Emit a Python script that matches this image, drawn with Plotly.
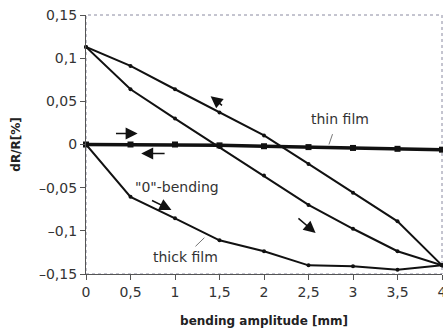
import plotly.graph_objects as go

x_vals = [0, 0.5, 1, 1.5, 2, 2.5, 3, 3.5, 4]
thin_film = [0, 0, 0, -0.001, -0.002, -0.003, -0.004, -0.005, -0.006]
thick_zero_bending = [0, -0.0606, -0.0855, -0.111, -0.1236, -0.140, -0.141, -0.145, -0.140]
thick_down = [0.113, 0.064, 0.030, -0.003, -0.036, -0.070, -0.0976, -0.1236, -0.140]
thick_return = [0.113, 0.091, 0.064, 0.037, 0.0105, -0.0225, -0.056, -0.089, -0.140]

y_tickvals = [0.15, 0.1, 0.05, 0, -0.05, -0.1, -0.15]
y_ticktext = ["0,15", "0,1", "0,05", "0", "–0,05", "–0,1", "–0,15"]
x_tickvals = [0, 0.5, 1, 1.5, 2, 2.5, 3, 3.5, 4]
x_ticktext = ["0", "0,5", "1", "1,5", "2", "2,5", "3", "3,5", "4"]

FONT = "DejaVu Sans, Verdana, sans-serif"

fig = go.Figure()
line_style = dict(color="#111111", width=2)
marker_style = dict(color="#111111", size=4, symbol="circle")
for ys in [thick_zero_bending, thick_down, thick_return]:
    fig.add_trace(go.Scatter(x=x_vals, y=ys, mode="lines+markers",
                             line=line_style, marker=marker_style, showlegend=False,
                             cliponaxis=False))
fig.add_trace(go.Scatter(x=x_vals, y=thin_film, mode="lines+markers",
                         line=dict(color="#111111", width=3.5),
                         marker=dict(color="#111111", size=6, symbol="square"),
                         showlegend=False, cliponaxis=False))

# arrows (head, tail) in data coordinates
arrows = [
    ((0.58, 0.0128), (0.32, 0.0128)),
    ((0.62, -0.0105), (0.90, -0.0105)),
    ((1.40, 0.056), (1.545, 0.044)),
    ((2.58, -0.1026), (2.37, -0.084)),
    ((0.96, -0.0758), (0.725, -0.064)),
]
for (hx, hy), (tx, ty) in arrows:
    fig.add_annotation(x=hx, y=hy, ax=tx, ay=ty, xref="x", yref="y",
                       axref="x", ayref="y", text="", showarrow=True,
                       arrowhead=2, arrowsize=1.6, arrowwidth=1.5,
                       arrowcolor="#111111")

labels = [
    ("thin film", 2.85, 0.030),
    ("thick film", 1.12, -0.1306),
    ("\"0\"-bending", 1.02, -0.049),
]
for txt, lx, ly in labels:
    fig.add_annotation(x=lx, y=ly, xref="x", yref="y", text=txt,
                       showarrow=False, font=dict(family=FONT, size=14, color="#333333"))

# leader lines
fig.add_shape(type="line", xref="x", yref="y", x0=2.77, y0=0.012, x1=2.73, y1=0.0,
              line=dict(color="#777777", width=1))
fig.add_shape(type="line", xref="x", yref="y", x0=1.33, y0=-0.108, x1=1.23, y1=-0.118,
              line=dict(color="#777777", width=1))

# dotted frame
fig.add_shape(type="rect", xref="paper", yref="paper", x0=0, y0=0, x1=1, y1=1,
              line=dict(color="#8a8aa0", width=1, dash="dot"), layer="below")

fig.update_layout(
    width=443, height=333,
    margin=dict(l=86, r=1, t=15, b=59),
    paper_bgcolor="white", plot_bgcolor="white",
    font=dict(family=FONT, size=14, color="#333333"),
    xaxis=dict(range=[0, 4], tickvals=x_tickvals, ticktext=x_ticktext,
               automargin=False, ticklabeloverflow="allow",
               showgrid=False, zeroline=False, showline=True, linecolor="#555555",
               linewidth=1.2, ticks="outside", ticklen=5, tickcolor="#555555",
               tickfont=dict(size=14, color="#333333"),
               title=dict(text="<b>bending amplitude [mm]</b>",
                          font=dict(size=12, color="#222222"), standoff=17)),
    yaxis=dict(range=[-0.15, 0.15], tickvals=y_tickvals, ticktext=y_ticktext,
               automargin=False, ticklabeloverflow="allow",
               showgrid=False, zeroline=False, showline=True, linecolor="#555555",
               linewidth=1.2, ticks="outside", ticklen=5, tickcolor="#555555",
               tickfont=dict(size=14, color="#333333"),
               title=dict(text="<b>dR/R[%]</b>",
                          font=dict(size=12, color="#222222"), standoff=15)),
)

fig.write_html("out.html", config={"displayModeBar": False},
               post_script="document.body.style.margin='0';document.body.style.overflow='hidden';")
